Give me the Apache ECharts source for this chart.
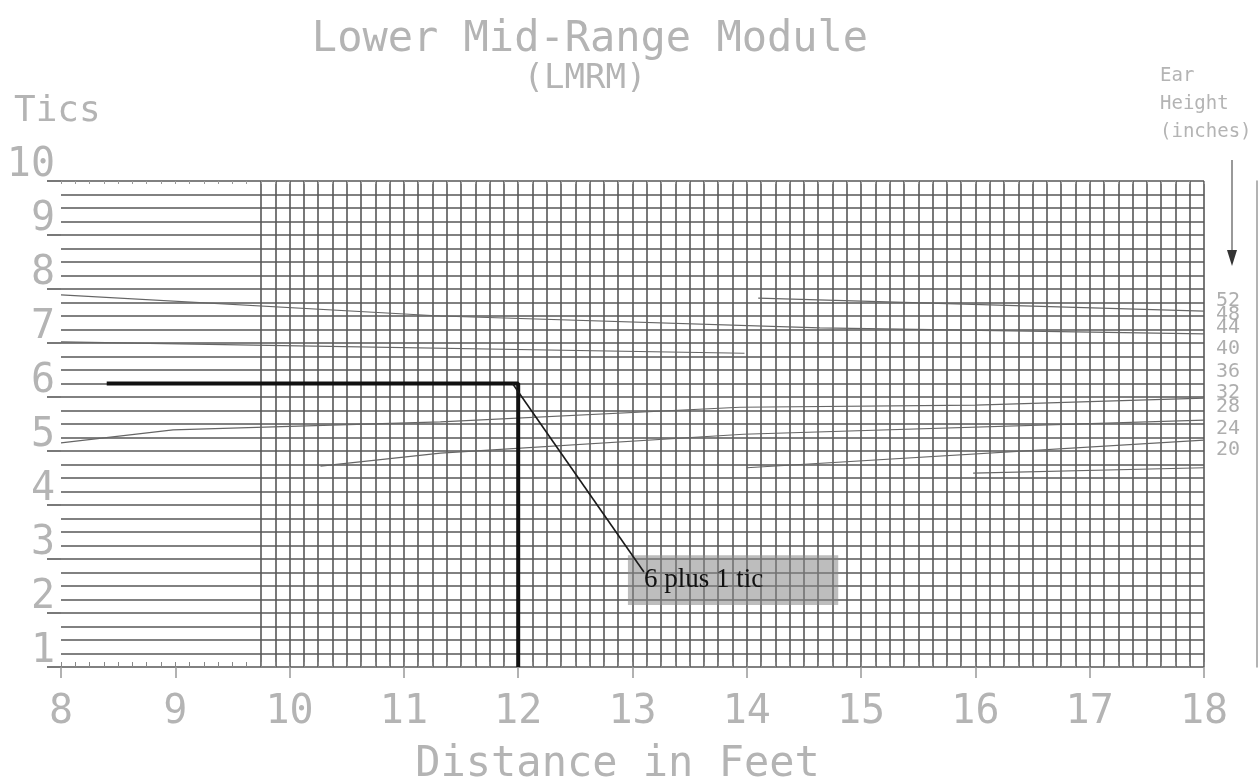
<!DOCTYPE html>
<html><head><meta charset="utf-8">
<script src="https://cdn.jsdelivr.net/npm/echarts@6/dist/echarts.min.js"></script>
<style>html,body{margin:0;padding:0;background:#fff}#c{width:1260px;height:779px}</style>
</head><body><div id="c"></div>
<script>
// ---------- data ----------
const xTickValues = [8, 9, 10, 11, 12, 13, 14, 15, 16, 17, 18];
const yTickValues = [1, 2, 3, 4, 5, 6, 7, 8, 9, 10];
const earHeights = ['52', '48', '44', '40', '36', '32', '28', '24', '20'];
const earLabelTics = [7.78, 7.52, 7.28, 6.89, 6.46, 6.07, 5.81, 5.41, 5.02];

// ear-height curves [distance ft, tics]
const curveA = [[14.1, 7.83], [18, 7.59]];
const curveB = [[8, 7.89], [11.32, 7.50], [14.64, 7.28], [18, 7.17]];
const curveC = [[8, 7.02], [9.68, 6.96], [13.98, 6.81]];
const curveD = [[8, 5.15], [8.98, 5.39], [11.32, 5.54], [13.94, 5.81], [16.0, 5.85], [18, 5.98]];
const curveE = [[10.27, 4.72], [11.32, 4.96], [13.97, 5.31], [18, 5.57]];
const curveF = [[14.0, 4.69], [18, 5.20]];
const curveG = [[15.98, 4.59], [18, 4.69]];

// example reading
const readingPath = [[8.4, 6.25], [12, 6.25], [12, 1]];
const leaderPath = [[11.95, 6.25], [13.1, 2.76]];
const noteBoxCorners = [[12.96, 3.07], [14.8, 2.15]];
const noteText = '6 plus 1 tic';

const xMin = 8, xMax = 18, yMin = 1, yMax = 10;
const gridStartFt = 9.75;     // vertical grid only drawn from here
const xFineStep = 0.125, yFineStep = 0.25;

// ---------- styles ----------
const GRID = '#575757';
const TXT = '#b4b4b4';
const MONO = '"DejaVu Sans Mono", monospace';

const vColors = [];
for (let v = xMin; v <= xMax + 1e-9; v += xFineStep) {
  vColors.push(v >= gridStartFt - 1e-9 ? GRID : 'rgba(0,0,0,0)');
}

const curves = [curveA, curveB, curveC, curveD, curveE, curveF, curveG];
const curveSeries = curves.map((d, i) => ({
  name: 'curve' + i, type: 'line', data: d, symbol: 'none', silent: true,
  xAxisIndex: 0, yAxisIndex: 0,
  lineStyle: { color: '#666', width: 1.2 }
}));

const chart = echarts.init(document.getElementById('c'), null, { renderer: 'canvas' });
chart.setOption({
  animation: false,
  backgroundColor: '#fff',
  grid: { left: 61, right: 56, top: 181, bottom: 112, containLabel: false, outerBoundsMode: 'none' },
  xAxis: [
    { type: 'value', min: xMin, max: xMax, interval: xFineStep, position: 'bottom',
      axisLine: { show: false }, axisLabel: { show: false },
      axisTick: { show: true, inside: true, length: 5, lineStyle: { color: '#888', width: 1 } },
      splitLine: { show: true, lineStyle: { color: vColors, width: 1.6 } } },
    { type: 'value', min: xMin, max: xMax, interval: 1, position: 'bottom',
      axisLine: { show: false }, splitLine: { show: false },
      axisTick: { show: true, length: 11, lineStyle: { color: '#999', width: 1.5 } },
      axisLabel: { show: true, fontFamily: MONO, fontSize: 40, color: TXT, margin: 26,
        formatter: v => (xTickValues.indexOf(v) >= 0 ? String(v) : '') },
      name: 'Distance in Feet', nameLocation: 'middle', nameGap: 98, nameMoveOverlap: false,
      nameTextStyle: { fontFamily: MONO, fontSize: 42, color: TXT, verticalAlign: 'middle',
        padding: [0, 30, 0, 0] } },
    { type: 'value', min: xMin, max: xMax, interval: xFineStep, position: 'top',
      axisLine: { show: false }, axisLabel: { show: false }, splitLine: { show: false },
      axisTick: { show: true, inside: true, length: 3, lineStyle: { color: '#999', width: 1 } } }
  ],
  yAxis: [
    { type: 'value', min: yMin, max: yMax, interval: yFineStep, position: 'left',
      axisLine: { show: false }, axisLabel: { show: false }, axisTick: { show: false },
      splitLine: { show: true, lineStyle: { color: GRID, width: 1.6 } } },
    { type: 'value', min: yMin, max: yMax, interval: 1, position: 'left',
      axisLine: { show: false }, splitLine: { show: false },
      axisTick: { show: true, length: 14, lineStyle: { color: GRID, width: 1.6 } },
      axisLabel: { show: true, fontFamily: MONO, fontSize: 40, color: TXT, margin: 6,
        verticalAlign: 'bottom', lineHeight: 30,
        formatter: v => (yTickValues.indexOf(v) >= 0 ? String(v) : '') } },
    { type: 'value', min: yMin, max: yMax, position: 'right', offset: 53,
      axisLine: { show: true, lineStyle: { color: '#9a9a9a', width: 1.5 } },
      axisLabel: { show: false }, axisTick: { show: false }, splitLine: { show: false } }
  ],
  series: curveSeries.concat([
    { name: 'reading', type: 'line', data: readingPath, symbol: 'none', silent: true,
      lineStyle: { color: '#111', width: 4 } },
    { name: 'leader', type: 'line', data: leaderPath, symbol: 'none', silent: true,
      lineStyle: { color: '#1a1a1a', width: 1.6 },
      markArea: { silent: true,
        itemStyle: { color: 'rgba(135,135,135,0.55)' },
        label: { show: true, position: 'insideLeft', distance: 16, color: '#111',
          fontFamily: '"Liberation Serif", serif', fontSize: 27 },
        data: [[{ coord: noteBoxCorners[0], name: noteText }, { coord: noteBoxCorners[1] }]] } },
    { name: 'earLabels', type: 'scatter', symbolSize: 0, silent: true,
      data: earLabelTics.map((t, i) => [xMax, t, earHeights[i]]),
      label: { show: true, position: 'right', distance: 12, formatter: p => p.data[2],
        fontFamily: MONO, fontSize: 20, lineHeight: 14, color: '#9a9a9a' } }
  ]),
  graphic: [
    { type: 'text', x: 590, y: 40, silent: true,
      style: { text: 'Lower Mid-Range Module', fontFamily: MONO, fontSize: 42, fill: TXT,
        align: 'center', verticalAlign: 'middle' } },
    { type: 'text', x: 585, y: 79, silent: true,
      style: { text: '(LMRM)', fontFamily: MONO, fontSize: 34, fill: TXT,
        align: 'center', verticalAlign: 'middle' } },
    { type: 'text', x: 14, y: 112, silent: true,
      style: { text: 'Tics', fontFamily: MONO, fontSize: 36, fill: TXT,
        align: 'left', verticalAlign: 'middle' } },
    { type: 'text', x: 1160, y: 104, silent: true,
      style: { text: 'Ear\nHeight\n(inches)', fontFamily: MONO, fontSize: 19, lineHeight: 28,
        fill: TXT, align: 'left', verticalAlign: 'middle' } },
    { type: 'line', silent: true, shape: { x1: 1232, y1: 160, x2: 1232, y2: 254 },
      style: { stroke: '#777', lineWidth: 1.5 } },
    { type: 'polygon', silent: true, shape: { points: [[1227, 250], [1237, 250], [1232, 266]] },
      style: { fill: '#333' } }
  ]
});
</script></body></html>
